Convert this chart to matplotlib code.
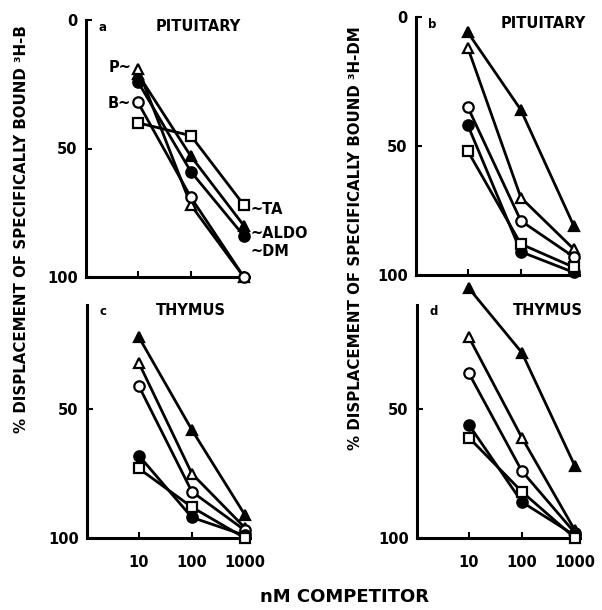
import matplotlib.pyplot as plt

# Concentrations of competitor (nM)
conc = [10, 100, 1000]

# % displacement, panel a (pituitary, 3H-B)
aldo_a = [21, 53, 80]
p_a = [19, 72, 100]
b_a = [32, 69, 100]
dm_a = [24, 59, 84]
ta_a = [40, 45, 72]

# panel b (pituitary, 3H-DM)
aldo_b = [6, 36, 81]
p_b = [12, 70, 90]
b_b = [35, 79, 93]
dm_b = [42, 91, 99]
ta_b = [52, 88, 97]

# panel c (thymus, 3H-B)
aldo_c = [22, 58, 91]
p_c = [32, 75, 96]
b_c = [41, 82, 97]
dm_c = [68, 92, 99]
ta_c = [73, 88, 100]

# panel d (thymus, 3H-DM)
aldo_d = [3, 28, 72]
p_d = [22, 61, 97]
b_d = [36, 74, 98]
dm_d = [56, 86, 99]
ta_d = [61, 82, 100]

W, H = 602, 610
BOLD = dict(fontweight='bold', family='DejaVu Sans', color='black')


def px(x, y):
    return x / W, 1 - y / H


def draw_panel(ax, series, letter, title, title_x, top, xlabels):
    styles = [('^', 'black'), ('^', 'white'), ('o', 'white'),
              ('o', 'black'), ('s', 'white')]
    for vals, (m, fc) in zip(series, styles):
        ax.plot(conc, vals, color='black', lw=2.0, marker=m, ms=7.5,
                mfc=fc, mec='black', mew=1.6, clip_on=False, zorder=3)
    ax.set_xscale('log')
    ax.set_xlim(1.05, 1250)
    ax.set_ylim(100, top)
    for s in ['top', 'right']:
        ax.spines[s].set_visible(False)
    for s in ['left', 'bottom']:
        ax.spines[s].set_linewidth(2.2)
    ax.set_xticks(conc)
    ax.minorticks_off()
    ax.tick_params(axis='x', direction='in', length=4, width=1.5, pad=12)
    ax.tick_params(axis='y', direction='in', length=4, width=1.5, pad=6)
    if xlabels:
        ax.set_xticklabels(['10', '100', '1000'], fontsize=10.5,
                           fontweight='bold')
    else:
        ax.set_xticklabels([])
    yt = [0, 50, 100] if top == 0 else [50, 100]
    ax.set_yticks(yt)
    ax.set_yticklabels([str(v) for v in yt], fontsize=10.5,
                       fontweight='bold')
    ax.text(0.1, 0.97, letter, transform=ax.transAxes, fontsize=8.5,
            va='center', ha='center', **BOLD)
    ax.text(title_x, 0.975, title, transform=ax.transAxes, fontsize=10.5,
            va='center', ha='center', **BOLD)


fig = plt.figure(figsize=(W / 100, H / 100), dpi=100)

ax_a = fig.add_axes([86 / W, 1 - 277 / H, 163 / W, 257 / H])
ax_b = fig.add_axes([416 / W, 1 - 275 / H, 163 / W, 258 / H])
ax_c = fig.add_axes([87 / W, 1 - 538 / H, 163 / W, 233 / H])
ax_d = fig.add_axes([417 / W, 1 - 538 / H, 163 / W, 233 / H])

draw_panel(ax_a, [aldo_a, p_a, b_a, dm_a, ta_a], 'a', 'PITUITARY', 0.69,
           0, False)
draw_panel(ax_b, [aldo_b, p_b, b_b, dm_b, ta_b], 'b', 'PITUITARY', 0.78,
           0, False)
draw_panel(ax_c, [aldo_c, p_c, b_c, dm_c, ta_c], 'c', 'THYMUS', 0.64,
           9.5, True)
draw_panel(ax_d, [aldo_d, p_d, b_d, dm_d, ta_d], 'd', 'THYMUS', 0.80,
           9.5, True)

# labels of the competitors in panel a
fig.text(*px(131, 68), 'P~', ha='right', va='center', fontsize=10.5,
         **BOLD)
fig.text(*px(131, 103), 'B~', ha='right', va='center', fontsize=10.5,
         **BOLD)
fig.text(*px(250, 210), '~TA', ha='left', va='center', fontsize=10.5,
         **BOLD)
fig.text(*px(250, 234), '~ALDO', ha='left', va='center', fontsize=10.5,
         **BOLD)
fig.text(*px(250, 251), '~DM', ha='left', va='center', fontsize=10.5,
         **BOLD)

# axis titles
fig.text(*px(22, 229), '% DISPLACEMENT OF SPECIFICALLY BOUND ³H-B',
         rotation=90, ha='center', va='center', fontsize=10.8, **BOLD)
fig.text(*px(355, 238), '% DISPLACEMENT OF SPECIFICALLY BOUND ³H-DM',
         rotation=90, ha='center', va='center', fontsize=10.8, **BOLD)
fig.text(*px(345, 597), 'nM COMPETITOR', ha='center', va='center',
         fontsize=13, **BOLD)

fig.savefig('out.png', dpi=100)
